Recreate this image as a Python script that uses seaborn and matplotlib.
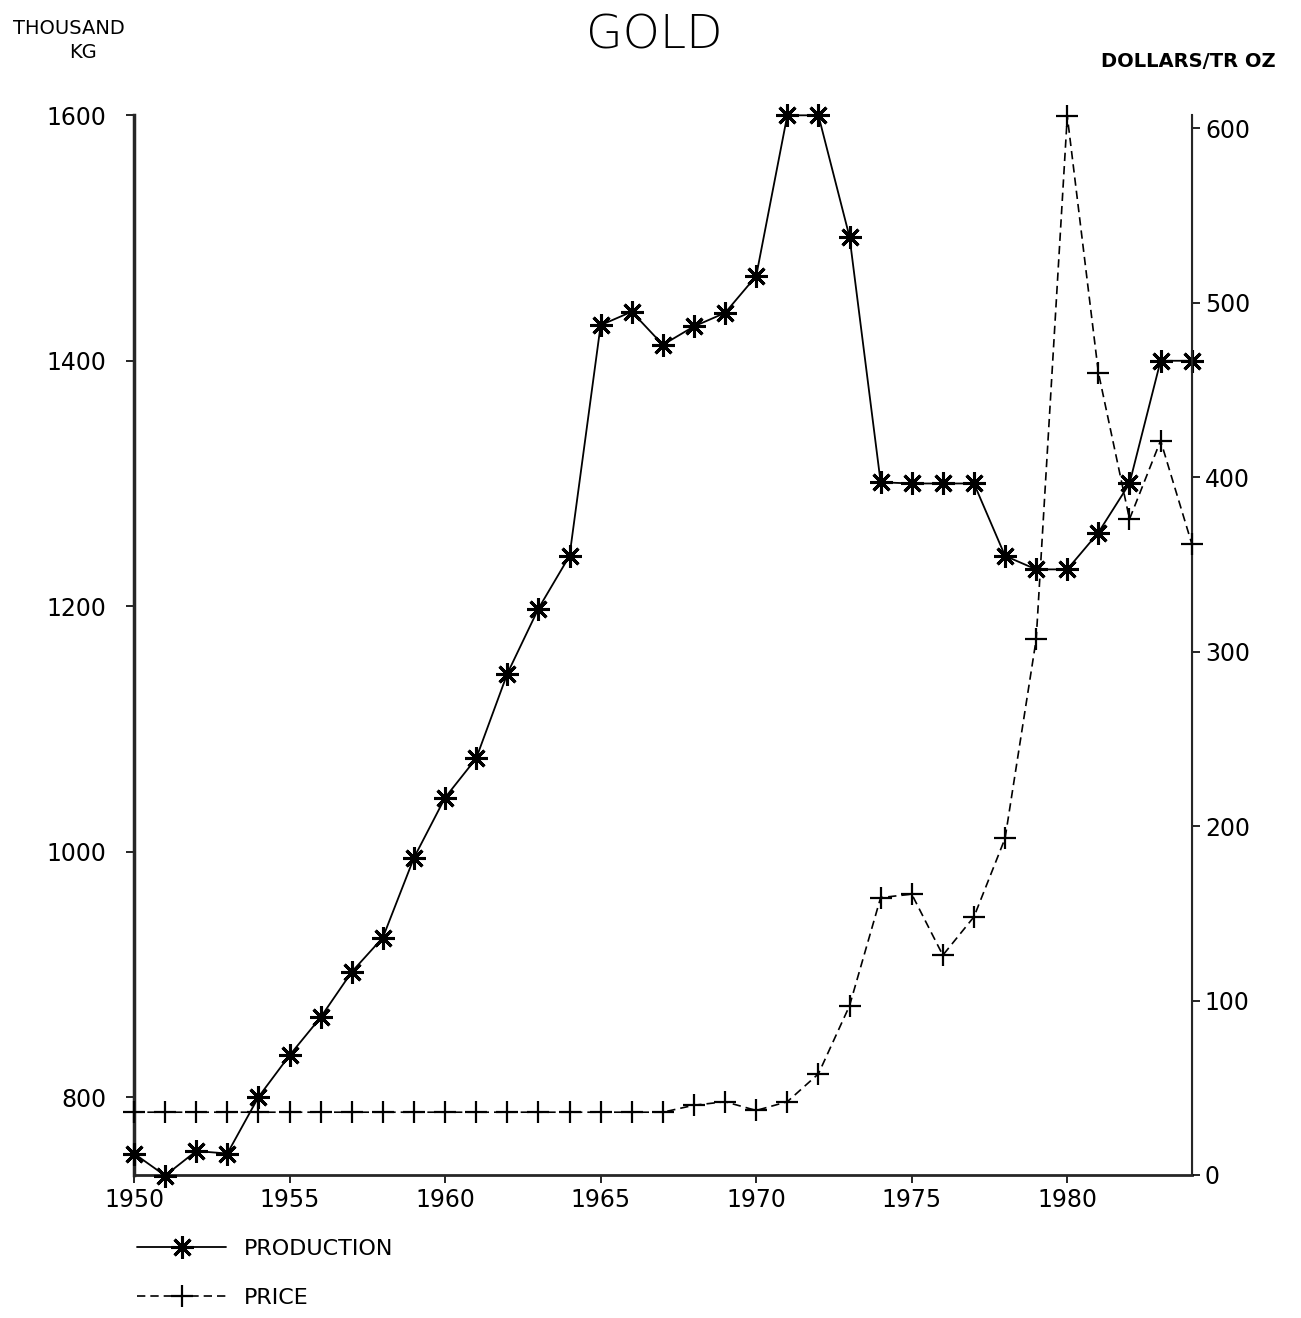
import numpy as np
import pandas as pd
import matplotlib
matplotlib.use("Agg")
import matplotlib.pyplot as plt
import seaborn as sns
from matplotlib.lines import Line2D

# --- dados ---
anos = list(range(1950, 1985))
producao = [754, 736, 756, 754, 800, 834, 865, 902, 930, 995,
            1044, 1076, 1145, 1198, 1241, 1429, 1440, 1413, 1428, 1439,
            1469, 1600, 1600, 1501, 1301, 1300, 1300, 1300, 1241, 1230,
            1230, 1260, 1300, 1400, 1400]
preco = [36, 36, 36, 36, 36, 36, 36, 36, 36, 36,
         36, 36, 36, 36, 36, 36, 36, 36, 40, 42,
         37, 42, 58, 97, 159, 161, 126, 148, 193, 307,
         607, 460, 376, 421, 362]

ticks_x = [1950, 1955, 1960, 1965, 1970, 1975, 1980]
ticks_esq = [800, 1000, 1200, 1400, 1600]
ticks_dir = [0, 100, 200, 300, 400, 500, 600]

df = pd.DataFrame({"ano": anos, "producao": producao, "preco": preco})

sns.set_style("ticks")
plt.rcParams['font.family'] = ['DejaVu Sans']
plt.rcParams['text.color'] = 'black'

fig = plt.figure(figsize=(13.01, 13.18), dpi=100)
ax = fig.add_axes([0.103, 0.1085, 0.813, 0.804])
ax2 = ax.twinx()

asterisco = (8, 2, 0)
sns.lineplot(data=df, x="ano", y="producao", ax=ax, color="black", linewidth=1.3,
             marker=asterisco, markersize=16, markeredgewidth=2.2, markeredgecolor="black",
             clip_on=False, zorder=5)
sns.lineplot(data=df, x="ano", y="preco", ax=ax2, color="black", linewidth=1.2,
             linestyle=(0, (5, 3)), marker="+", markersize=16, markeredgewidth=1.6,
             markeredgecolor="black", clip_on=False, zorder=5)

ax.set_xlim(1950, 1984)
ax.set_ylim(736.5, 1600)
ax2.set_ylim(0, 607.5)

ax.set_xticks(ticks_x)
ax.set_yticks(ticks_esq)
ax2.set_yticks(ticks_dir)
ax.set_xlabel("")
ax.set_ylabel("")
ax2.set_ylabel("")

for a in (ax, ax2):
    a.spines["top"].set_visible(False)
    a.tick_params(labelsize=17, length=6, width=1.2, colors="black")
ax.tick_params(axis="y", pad=14)
ax.spines["left"].set_linewidth(2.5)
ax.spines["bottom"].set_linewidth(2.0)
ax2.spines["right"].set_linewidth(1.5)
ax2.spines["left"].set_visible(False)
ax2.spines["bottom"].set_visible(False)

fig.text(0.503, 0.973, "GOLD", fontsize=34, ha="center", va="center",
         fontweight="light")
fig.text(0.053, 0.978, "THOUSAND", fontsize=14, ha="center", va="center")
fig.text(0.064, 0.960, "KG", fontsize=14, ha="center", va="center")
fig.text(0.913, 0.953, "DOLLARS/TR OZ", fontsize=14, ha="center", va="center",
         fontweight="bold")

handles = [
    Line2D([], [], color="black", linewidth=1.3, marker=asterisco, markersize=16,
           markeredgewidth=2.2),
    Line2D([], [], color="black", linewidth=1.2, linestyle=(0, (5, 3)), marker="+",
           markersize=16, markeredgewidth=1.6),
]
fig.legend(handles, ["PRODUCTION", "PRICE"], loc="upper left",
           bbox_to_anchor=(0.09, 0.075), frameon=False, fontsize=16,
           handlelength=4, labelspacing=1.3)

fig.savefig("out.png", dpi=100)
